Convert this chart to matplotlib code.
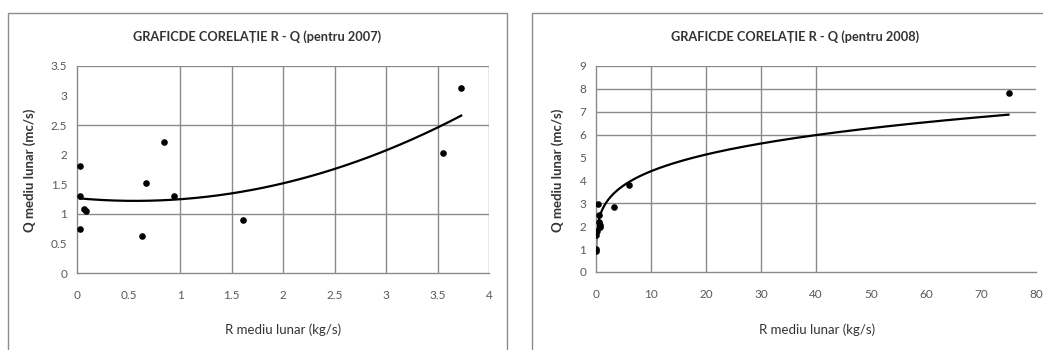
import matplotlib
matplotlib.use("Agg")
import matplotlib.pyplot as plt
import numpy as np
from matplotlib.patches import Rectangle

plt.rcParams['font.family'] = ['Lato', 'DejaVu Sans']

# 2007 monthly values
r_2007 = [0.03, 0.03, 0.03, 0.065, 0.09, 0.63, 0.67, 0.84, 0.94, 1.61, 3.55, 3.73]
q_2007 = [1.81, 1.31, 0.75, 1.09, 1.05, 0.62, 1.52, 2.22, 1.31, 0.90, 2.03, 3.13]

# 2008 monthly values
r_2008 = [0.01, 0.02, 0.05, 0.1, 0.35, 0.5, 0.6, 0.65, 0.7, 3.2, 6.0, 75.0]
q_2008 = [0.9, 1.0, 1.6, 1.8, 2.95, 2.2, 2.5, 2.05, 1.95, 2.85, 3.8, 7.8]

title_2007 = "GRAFICDE CORELAȚIE R - Q (pentru 2007)"
title_2008 = "GRAFICDE CORELAȚIE R - Q (pentru 2008)"
xlab = "R mediu lunar (kg/s)"
ylab = "Q mediu lunar (mc/s)"

W, H = 1043, 350
fig = plt.figure(figsize=(W / 100, H / 100), dpi=100)

def box(x0, y0, x1, y1):
    return [x0 / W, 1 - y1 / H, (x1 - x0) / W, (y1 - y0) / H]

# panel borders
fig.patches.append(Rectangle((8 / W, -0.05), (507 - 8) / W, 1 - 13 / H + 0.05,
                             transform=fig.transFigure, fill=False,
                             edgecolor='#8c8c8c', lw=1))
fig.patches.append(Rectangle((532 / W, -0.05), 0.6, 1 - 13 / H + 0.05,
                             transform=fig.transFigure, fill=False,
                             edgecolor='#8c8c8c', lw=1))

grid_c = '#8a8a8a'
tick_c = '#595959'


def style(ax, xlim, ylim, xticks, yticks, xfmt):
    ax.set_xlim(*xlim)
    ax.set_ylim(*ylim)
    ax.set_xticks(xticks)
    ax.set_yticks(yticks)
    ax.set_xticklabels([xfmt(v) for v in xticks])
    ax.set_yticklabels(['%g' % v for v in yticks])
    for s in ['top', 'right']:
        ax.spines[s].set_visible(False)
    for s in ['left', 'bottom']:
        ax.spines[s].set_color(grid_c)
        ax.spines[s].set_linewidth(1)
    ax.tick_params(axis='x', length=0, pad=12, labelsize=8.5, labelcolor=tick_c)
    ax.tick_params(axis='y', length=0, pad=7, labelsize=8.5, labelcolor=tick_c)


# ---- 2007 ----
ax1 = fig.add_axes(box(77, 66, 489, 273))
style(ax1, (0, 4), (0, 3.5), np.arange(0, 4.01, 0.5), np.arange(0, 3.51, 0.5),
      lambda v: '%g' % v)
for v in [1, 1.5, 2, 2.5, 3, 3.5, 4]:
    ax1.axvline(v, color=grid_c, lw=1, zorder=0)
for v in [1, 2.5, 3.5]:
    ax1.axhline(v, color=grid_c, lw=1, zorder=0)
ax1.scatter(r_2007, q_2007, s=14, color='black', zorder=3)
c = np.polyfit(r_2007, q_2007, 2)
xs = np.linspace(min(r_2007), max(r_2007), 200)
ax1.plot(xs, np.polyval(c, xs), color='black', lw=1.6, zorder=2)

fig.text(257 / W, 1 - 37 / H, title_2007, ha='center', va='center',
         fontsize=9.2, fontweight='bold', color='#333333')
fig.text(283 / W, 1 - 330 / H, xlab, ha='center', va='center',
         fontsize=9.5, color='#333333')
fig.text(30 / W, 1 - 170 / H, ylab, ha='center', va='center', rotation=90,
         fontsize=9.5, fontweight='bold', color='#333333')

# ---- 2008 ----
ax2 = fig.add_axes(box(596, 66, 1036, 272))
style(ax2, (0, 80), (0, 9), np.arange(0, 81, 10), np.arange(0, 10, 1),
      lambda v: '%d' % v)
for v in [10, 20, 30, 40]:
    ax2.axvline(v, color=grid_c, lw=1, zorder=0)
for v in [3, 6, 7, 8, 9]:
    ax2.axhline(v, color=grid_c, lw=1, zorder=0)
ax2.scatter(r_2008, q_2008, s=14, color='black', zorder=3)
# power trendline fitted in log-log space
b, lna = np.polyfit(np.log(r_2008), np.log(q_2008), 1)
xs2 = np.linspace(min(r_2008), max(r_2008), 2000)
ax2.plot(xs2, np.exp(lna) * xs2 ** b, color='black', lw=1.6, zorder=2)

fig.text(795 / W, 1 - 37 / H, title_2008, ha='center', va='center',
         fontsize=9.2, fontweight='bold', color='#333333')
fig.text(817 / W, 1 - 330 / H, xlab, ha='center', va='center',
         fontsize=9.5, color='#333333')
fig.text(558 / W, 1 - 170 / H, ylab, ha='center', va='center', rotation=90,
         fontsize=9.5, fontweight='bold', color='#333333')

fig.savefig("out.png", dpi=100)
